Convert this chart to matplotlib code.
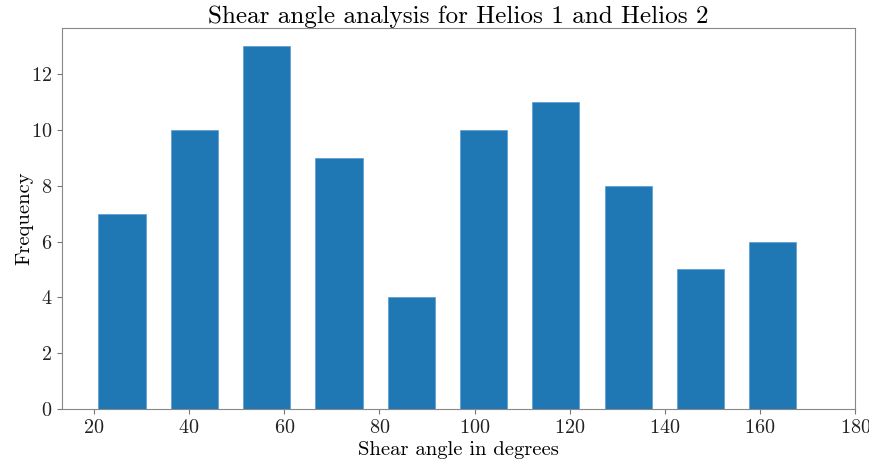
import numpy as np
import matplotlib
matplotlib.use("Agg")
import matplotlib.pyplot as plt

# histogram counts
bin_centers = [25.9, 41.1, 56.3, 71.5, 86.7, 101.9, 117.1, 132.3, 147.5, 162.7]
counts = [7, 10, 13, 9, 4, 10, 11, 8, 5, 6]
bar_width = 9.9

plt.rcParams['font.family'] = 'serif'
plt.rcParams['font.serif'] = ['cmr10']
plt.rcParams['mathtext.fontset'] = 'cm'
plt.rcParams['axes.formatter.use_mathtext'] = True

fig = plt.figure(figsize=(8.7, 4.61), dpi=100)
ax = fig.add_axes([0.0713, 0.1128, 0.9117, 0.8262])

ax.bar(bin_centers, counts, width=bar_width, color='#1f77b4',
       edgecolor='#5fa2d6', linewidth=0.6)

ax.set_xlim(13.3, 180)
ax.set_ylim(0, 13.65)
ax.set_xticks(np.arange(20, 181, 20))
ax.set_yticks(np.arange(0, 13, 2))

ax.set_title('Shear angle analysis for Helios 1 and Helios 2', fontsize=18.1, pad=3.6)
ax.set_xlabel('Shear angle in degrees', fontsize=14.8, labelpad=3)
ax.set_ylabel('Frequency', fontsize=14.8, labelpad=-2)
ax.tick_params(labelsize=14.5, colors='#222222')
ax.tick_params(color='#777777')
for s in ax.spines.values():
    s.set_color('#888888')

fig.savefig('out.png', dpi=100)
